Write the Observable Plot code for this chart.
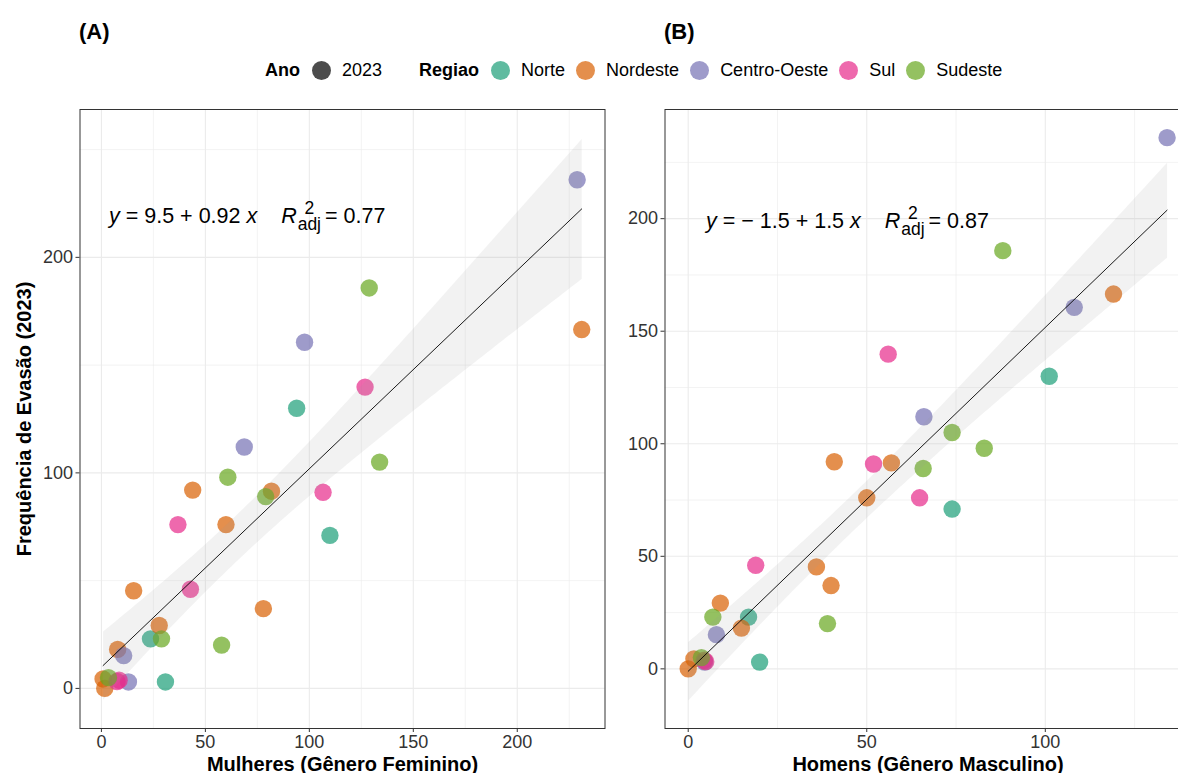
<!DOCTYPE html>
<html>
<head>
<meta charset="utf-8">
<script src="https://cdn.jsdelivr.net/npm/d3@7"></script>
<script src="https://cdn.jsdelivr.net/npm/@observablehq/plot@0.6"></script>
<style>
html,body{margin:0;padding:0;background:#fff;overflow:hidden;}
#wrap{position:relative;width:1178px;height:773px;overflow:hidden;font-family:"Liberation Sans",Arial,sans-serif;color:#000;}
.panel{position:absolute;top:0;}
.tag{position:absolute;font-weight:bold;font-size:22px;line-height:22px;}
.legend{position:absolute;top:60px;left:265px;height:20px;display:flex;align-items:center;font-size:18px;white-space:nowrap;}
.legend b{margin-right:12px;}
.legend .it{display:flex;align-items:center;margin-right:11px;}
.legend .gap{width:26px;}
.dot{display:inline-block;width:19px;height:19px;border-radius:50%;margin-right:11px;}
.eq{position:absolute;font-size:21.5px;line-height:22px;white-space:nowrap;}
.eq .st{display:inline-block;vertical-align:middle;line-height:16px;font-size:17.5px;text-align:center;margin-left:1px;margin-right:4px;position:relative;top:-1px;}
</style>
</head>
<body>
<div id="wrap"></div>
<script>
// ---------------- data ----------------
const regioes = ["Norte", "Nordeste", "Centro-Oeste", "Sul", "Sudeste"];
const cores = ["#1B9E77", "#D95F02", "#7570B3", "#E7298A", "#66A61E"];
const anoLegenda = ["2023"];

const regiao = [
  "Norte","Norte","Norte","Norte",
  "Nordeste","Nordeste","Nordeste","Nordeste","Nordeste","Nordeste","Nordeste","Nordeste","Nordeste","Nordeste",
  "Centro-Oeste","Centro-Oeste","Centro-Oeste","Centro-Oeste","Centro-Oeste",
  "Sul","Sul","Sul","Sul","Sul","Sul",
  "Sudeste","Sudeste","Sudeste","Sudeste","Sudeste","Sudeste","Sudeste"
];
const evasao = [
  130, 71, 23, 3,
  166.5, 92, 91.5, 76, 45.3, 37, 29.2, 18.1, 4.4, 0,
  236, 160.6, 112, 15.2, 3,
  139.8, 91, 76, 46, 3.2, 3.8,
  185.8, 105, 98, 89, 23, 20.1, 5
];
const mulheres = [
  93.9, 109.9, 23.6, 30.8,
  231, 43.9, 81.8, 59.9, 15.5, 77.9, 27.8, 7.8, 0.8, 1.6,
  228.8, 97.7, 68.7, 10.7, 13,
  126.8, 106.6, 36.8, 42.8, 7.5, 8.5,
  128.8, 133.8, 60.8, 79, 28.9, 57.8, 3.4
];
const homens = [
  101.1, 73.9, 16.9, 20,
  119.1, 40.9, 56.9, 50, 35.9, 40, 9, 14.9, 1.6, 0,
  134.1, 108.1, 66, 7.9, 4.6,
  56, 51.9, 64.8, 18.9, 4.9, 4.5,
  88.1, 73.9, 82.9, 65.8, 6.9, 39, 3.7
];

// tick values
const xTicksA = [0, 50, 100, 150, 200];
const xMinorA = [25, 75, 125, 175, 225];
const yTicksA = [0, 100, 200];
const yMinorA = [50, 150, 250];
const xTicksB = [0, 50, 100];
const xMinorB = [25, 75, 125];
const yTicksB = [0, 50, 100, 150, 200];
const yMinorB = [25, 75, 125, 175, 225];

const eqA = {intercept: "9.5", slope: "0.92", r2: "0.77"};
const eqB = {intercept: "\u2212 1.5", slope: "1.5", r2: "0.87"};

const yTitle = "Frequência de Evasão (2023)";
const xTitleA = "Mulheres (Gênero Feminino)";
const xTitleB = "Homens (Gênero Masculino)";

// --------------- panels ---------------
function panel(o) {
  const data = regiao.map((r, i) => ({regiao: r, x: o.x[i], y: evasao[i]}));
  const grid = {stroke: "#ebebeb", strokeOpacity: 1};
  const marks = [
    Plot.gridX(o.xMinor, {...grid, strokeWidth: 0.6}),
    Plot.gridY(o.yMinor, {...grid, strokeWidth: 0.6}),
    Plot.gridX(o.xTicks, {...grid, strokeWidth: 1.1}),
    Plot.gridY(o.yTicks, {...grid, strokeWidth: 1.1}),
    Plot.dot(data, {x: "x", y: "y", r: 8.7, fill: "regiao", fillOpacity: 0.7}),
    Plot.linearRegressionY(data, {x: "x", y: "y", stroke: "black", strokeWidth: 0.9, fill: "#999", fillOpacity: 0.13}),
    Plot.axisX({ticks: o.xTicks, tickSize: 4, tickPadding: 3, stroke: "#333", fill: "#333", label: null}),
    Plot.axisY({ticks: o.yTicks, tickSize: 4, tickPadding: 3, stroke: "#333", fill: "#333", label: null}),
    Plot.frame({stroke: "#333", strokeWidth: 1}),
    Plot.text([o.xTitle], {frameAnchor: "bottom", lineAnchor: "bottom", dy: 42, fontWeight: "bold", fontSize: 20, fill: "#000"})
  ];
  if (o.yTitle) marks.push(Plot.text([o.yTitle], {frameAnchor: "left", textAnchor: "middle", rotate: -90, dx: -55, fontWeight: "bold", fontSize: 20, fill: "#000"}));
  return Plot.plot({
    width: o.width, height: 773,
    marginTop: 109, marginBottom: 45, marginLeft: o.marginLeft, marginRight: o.marginRight,
    style: {fontFamily: "'Liberation Sans', Arial, sans-serif", fontSize: "18px", color: "#333", background: "transparent", overflow: "visible"},
    x: {domain: o.xDomain, label: null},
    y: {domain: o.yDomain, label: null},
    color: {domain: regioes, range: cores},
    marks
  });
}

const wrap = document.getElementById("wrap");

const pA = panel({x: mulheres, xDomain: [-10.3, 242.2], yDomain: [-18.6, 268.6],
  xTicks: xTicksA, xMinor: xMinorA, yTicks: yTicksA, yMinor: yMinorA,
  width: 612, marginLeft: 79.5, marginRight: 7.5, xTitle: xTitleA, yTitle});
pA.classList.add("panel"); pA.style.left = "0px";
wrap.appendChild(pA);

const pB = panel({x: homens, xDomain: [-6.5, 140.8], yDomain: [-26.5, 248.5],
  xTicks: xTicksB, xMinor: xMinorB, yTicks: yTicksB, yMinor: yMinorB,
  width: 600, marginLeft: 54.5, marginRight: 19.5, xTitle: xTitleB});
pB.classList.add("panel"); pB.style.left = "610px";
wrap.appendChild(pB);

// tags
function tag(t, left, top) {
  const d = document.createElement("div");
  d.className = "tag"; d.textContent = t;
  d.style.left = left + "px"; d.style.top = top + "px";
  wrap.appendChild(d);
}
tag("(A)", 79, 21);
tag("(B)", 664, 21);

// equations
function eq(e, left, top) {
  const d = document.createElement("div");
  d.className = "eq";
  d.style.left = left + "px"; d.style.top = top + "px";
  d.innerHTML = `<i>y</i> = ${e.intercept} + ${e.slope} <i>x</i>&nbsp;&nbsp;&nbsp;&nbsp;<i>R</i><span class="st">2<br>adj</span>= ${e.r2}`;
  wrap.appendChild(d);
}
eq(eqA, 109, 201);
eq(eqB, 706, 206);

// legend
const lg = document.createElement("div");
lg.className = "legend";
let html = `<b>Ano</b><span class="it"><span class="dot" style="background:#000;opacity:0.7"></span>${anoLegenda[0]}</span><span class="gap"></span><b>Regiao</b>`;
regioes.forEach((r, i) => {
  html += `<span class="it"><span class="dot" style="background:${cores[i]};opacity:0.7"></span>${r}</span>`;
});
lg.innerHTML = html;
wrap.appendChild(lg);
</script>
</body>
</html>
